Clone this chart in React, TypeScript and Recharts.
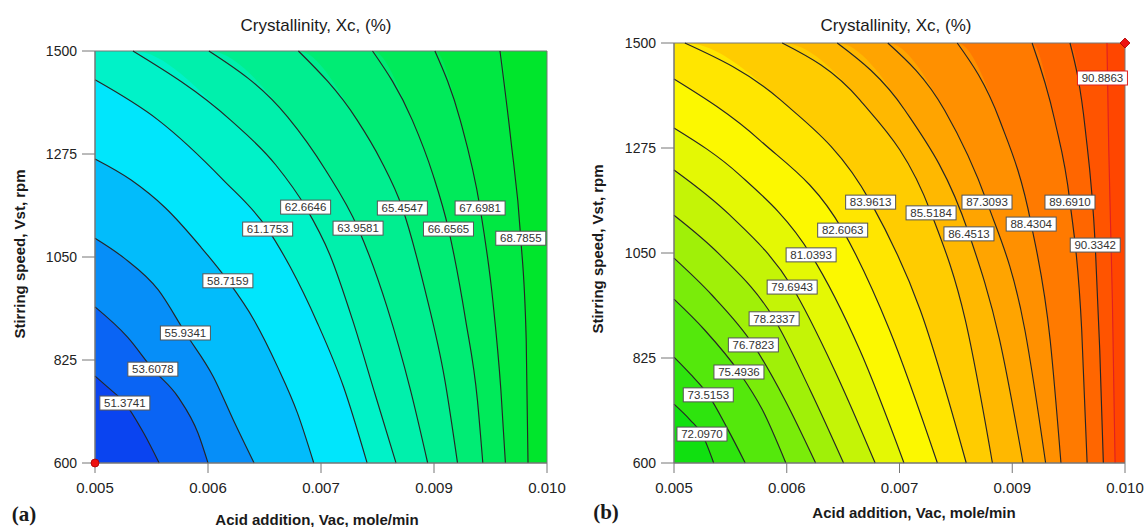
import React from "react";
import {
  ComposedChart,
  Area,
  Line,
  Scatter,
  XAxis,
  YAxis,
  ReferenceArea,
} from "recharts";

// shared axes
const xTicks = [0.005, 0.00625, 0.0075, 0.00875, 0.01];
const xTickLabels = ["0.005", "0.006", "0.007", "0.009", "0.010"];
const yTicks = [600, 825, 1050, 1275, 1500];

// panel (a): contour levels, contour points [x, y], label positions
const levelsA = [
  "51.3741", "53.6078", "55.9341", "58.7159", "61.1753", "62.6646",
  "63.9581", "65.4547", "66.6565", "67.6981", "68.7855",
];
const contoursA = [
  [[0.005, 790], [0.00515, 764], [0.00533, 731], [0.00554, 665], [0.00571, 600]],
  [[0.005, 941], [0.00536, 875], [0.00564, 805], [0.00592, 744], [0.00614, 665], [0.00625, 600]],
  [[0.005, 1091], [0.00532, 1048], [0.0057, 978], [0.006, 884], [0.00631, 788], [0.00653, 694], [0.00676, 600]],
  [[0.005, 1264], [0.0054, 1218], [0.00578, 1157], [0.00617, 1072], [0.00647, 998], [0.00676, 912], [0.00702, 810], [0.00724, 709], [0.00742, 600]],
  [[0.005, 1437], [0.0057, 1349], [0.00642, 1218], [0.00691, 1111], [0.00716, 1028], [0.00746, 906], [0.00775, 766], [0.00801, 600]],
  [[0.00542, 1500], [0.0065, 1349], [0.007, 1251], [0.00733, 1159], [0.0076, 1054], [0.00785, 912], [0.0081, 749], [0.00833, 600]],
  [[0.00626, 1500], [0.00713, 1356], [0.00755, 1240], [0.00791, 1113], [0.00823, 941], [0.00849, 759], [0.00868, 600]],
  [[0.00725, 1500], [0.0079, 1349], [0.00816, 1262], [0.0084, 1157], [0.00865, 978], [0.00887, 781], [0.00901, 600]],
  [[0.00807, 1500], [0.00851, 1349], [0.00874, 1229], [0.00891, 1111], [0.0091, 912], [0.00923, 738], [0.00929, 600]],
  [[0.00876, 1500], [0.00904, 1349], [0.00926, 1157], [0.0094, 956], [0.00949, 759], [0.00954, 600]],
  [[0.00948, 1500], [0.0096, 1306], [0.00971, 1091], [0.00977, 869], [0.00979, 600]],
];
const labelPosA = [
  [0.00533, 731], [0.00564, 805], [0.006, 884], [0.00647, 998], [0.00691, 1111],
  [0.00733, 1159], [0.00791, 1113], [0.0084, 1157], [0.00891, 1111], [0.00926, 1157],
  [0.00971, 1091],
];
const markerA = [{ x: 0.005, y: 600 }];

// panel (b)
const levelsB = [
  "72.0970", "73.5153", "75.4936", "76.7823", "78.2337", "79.6943", "81.0393",
  "82.6063", "83.9613", "85.5184", "86.4513", "87.3093", "88.4304", "89.6910",
  "90.3342", "90.8863",
];
const contoursB = [
  [[0.005, 726], [0.00518, 692], [0.00531, 662], [0.00544, 600]],
  [[0.005, 827], [0.00518, 791], [0.00538, 746], [0.0056, 671], [0.00579, 600]],
  [[0.005, 951], [0.00534, 885], [0.00572, 795], [0.00598, 714], [0.00624, 600]],
  [[0.005, 1039], [0.00542, 960], [0.00588, 853], [0.00623, 735], [0.00657, 600]],
  [[0.005, 1131], [0.00551, 1046], [0.00611, 909], [0.00651, 756], [0.00688, 600]],
  [[0.005, 1228], [0.00562, 1131], [0.00631, 977], [0.00678, 799], [0.00723, 600]],
  [[0.005, 1318], [0.00573, 1217], [0.00652, 1046], [0.00706, 842], [0.00755, 600]],
  [[0.005, 1423], [0.00595, 1292], [0.00687, 1099], [0.00739, 885], [0.00792, 600]],
  [[0.00512, 1500], [0.00618, 1378], [0.00718, 1159], [0.00773, 928], [0.00824, 600]],
  [[0.0062, 1500], [0.00706, 1378], [0.00785, 1136], [0.00823, 906], [0.00853, 600]],
  [[0.00681, 1500], [0.00756, 1356], [0.00827, 1091], [0.00861, 864], [0.00887, 600]],
  [[0.00737, 1500], [0.008, 1356], [0.00847, 1159], [0.00889, 885], [0.00912, 600]],
  [[0.00814, 1500], [0.00861, 1335], [0.00896, 1112], [0.00917, 864], [0.00929, 600]],
  [[0.00897, 1500], [0.00922, 1335], [0.00939, 1159], [0.00952, 885], [0.00958, 600]],
  [[0.00939, 1500], [0.00956, 1314], [0.00967, 1067], [0.00972, 842], [0.00976, 600]],
  [[0.0098, 1500], [0.00982, 1271], [0.00986, 949], [0.00989, 600]],
];
const labelPosB = [
  [0.00531, 662], [0.00538, 746], [0.00572, 795], [0.00588, 853], [0.00611, 909],
  [0.00631, 977], [0.00652, 1046], [0.00687, 1099], [0.00718, 1159], [0.00785, 1136],
  [0.00827, 1091], [0.00847, 1159], [0.00896, 1112], [0.00939, 1159], [0.00967, 1067],
  [0.00975, 1425],
];
const markerB = [{ x: 0.01, y: 1500 }];

// band fills: index 0 = below the first contour, last = beyond the last one
const bandsA = [
  "#0a44f0", "#0a64f4", "#068ef8", "#02bcfb", "#00e6fc", "#00f2c8",
  "#00f0ac", "#00ee90", "#00ec74", "#00ea5a", "#00e842", "#00e62c",
];
const bandsB = [
  "#10e010", "#2ee40e", "#54e80c", "#7aec0a", "#a0f008", "#c4f406", "#e4f804",
  "#fcf800", "#ffe600", "#ffcc00", "#ffb800", "#ffa400", "#ff9000", "#ff7a00",
  "#ff6600", "#ff5400", "#ff4600",
];

const X_MIN = xTicks[0];
const X_MAX = xTicks[xTicks.length - 1];
const Y_MIN = yTicks[0];
const Y_MAX = yTicks[yTicks.length - 1];

const SANS = "'Liberation Sans', Arial, sans-serif";

const toPts = (c: number[][]) => c.map(([x, y]) => ({ x, y }));
// region under a contour, closed through the top-left corner when it starts on the top edge
const toFill = (c: number[][]) =>
  c[0][0] > X_MIN ? [{ x: X_MIN, y: Y_MAX }, ...toPts(c)] : toPts(c);

const LabelBox = (props: any) => {
  const { cx, cy, payload } = props;
  if (cx == null || cy == null) return null;
  const w = 50;
  const h = 14;
  return (
    <g>
      <rect
        x={cx - w / 2}
        y={cy - h / 2}
        width={w}
        height={h}
        fill="#ffffff"
        stroke={payload?.hi ? "#e02020" : "#555555"}
        strokeWidth={1}
      />
      <text
        x={cx}
        y={cy}
        dy="0.36em"
        textAnchor="middle"
        fontSize={11.5}
        fontFamily={SANS}
        fill="#333333"
      >
        {payload?.text}
      </text>
    </g>
  );
};

const RedDot = (p: any) => (
  <circle cx={p.cx} cy={p.cy} r={4} fill="#ee1111" stroke="#aa0000" strokeWidth={0.8} />
);
const RedDiamond = (p: any) => (
  <polygon
    points={`${p.cx},${p.cy - 5} ${p.cx + 5},${p.cy} ${p.cx},${p.cy + 5} ${p.cx - 5},${p.cy}`}
    fill="#ee1111"
    stroke="#aa0000"
    strokeWidth={0.8}
  />
);

interface PanelProps {
  contours: number[][][];
  levels: string[];
  labelPos: number[][];
  bands: string[];
  marker: { x: number; y: number }[];
  markerShape: (p: any) => React.ReactElement;
  highlight: number;
  margin: { top: number; right: number; bottom: number; left: number };
}

function Panel({ contours, levels, labelPos, bands, marker, markerShape, highlight, margin }: PanelProps) {
  const labels = levels.map((text, i) => ({
    x: labelPos[i][0],
    y: labelPos[i][1],
    text,
    hi: i === highlight,
  }));
  const baseFill = [
    { x: X_MIN, y: Y_MAX },
    { x: X_MAX, y: Y_MAX },
  ];
  // paint from the outermost band inwards
  const order = contours.map((_, i) => i).reverse();

  return (
    <ComposedChart width={573} height={527} margin={margin}>
      <XAxis
        type="number"
        dataKey="x"
        domain={[X_MIN, X_MAX]}
        ticks={xTicks}
        interval={0}
        tickFormatter={(_v: number, i: number) => xTickLabels[i]}
        height={40}
        tickSize={10}
        tickMargin={9}
        stroke="#777777"
        tick={{ fill: "#222222", fontSize: 15, fontFamily: SANS }}
      />
      <YAxis
        type="number"
        dataKey="y"
        domain={[Y_MIN, Y_MAX]}
        ticks={yTicks}
        interval={0}
        width={60}
        tickSize={13}
        tickMargin={5}
        stroke="#777777"
        tick={{ fill: "#222222", fontSize: 14, fontFamily: SANS }}
      />
      <Area
        data={baseFill}
        dataKey="y"
        type="linear"
        stroke="none"
        fill={bands[bands.length - 1]}
        fillOpacity={1}
        isAnimationActive={false}
      />
      {order.map((i) => (
        <Area
          key={`band-${i}`}
          data={toFill(contours[i])}
          dataKey="y"
          type="monotone"
          stroke="none"
          fill={bands[i]}
          fillOpacity={1}
          isAnimationActive={false}
        />
      ))}
      {contours.map((c, i) => (
        <Line
          key={`line-${i}`}
          data={toPts(c)}
          dataKey="y"
          type="monotone"
          stroke={i === highlight ? "#e02020" : "#262626"}
          strokeWidth={1.15}
          dot={false}
          activeDot={false}
          isAnimationActive={false}
        />
      ))}
      <ReferenceArea
        x1={X_MIN}
        x2={X_MAX}
        y1={Y_MIN}
        y2={Y_MAX}
        fill="none"
        stroke="#777777"
        strokeWidth={1}
      />
      <Scatter data={labels} shape={LabelBox} isAnimationActive={false} />
      <Scatter data={marker} shape={markerShape} isAnimationActive={false} />
    </ComposedChart>
  );
}

const abs = (left: number, top: number, extra: React.CSSProperties = {}): React.CSSProperties => ({
  position: "absolute",
  left,
  top,
  transform: "translate(-50%, -50%)",
  whiteSpace: "nowrap",
  fontFamily: SANS,
  color: "#1a1a1a",
  lineHeight: 1,
  ...extra,
});

export default function App() {
  const title = "Crystallinity, Xc, (%)";
  const yLabel = "Stirring speed, Vst, rpm";
  const xLabel = "Acid addition, Vac, mole/min";
  const axisFont: React.CSSProperties = { fontSize: 15, fontWeight: "bold" };
  const tagFont: React.CSSProperties = {
    fontSize: 21,
    fontWeight: "bold",
    fontFamily: "'Liberation Serif', 'Times New Roman', serif",
  };

  return (
    <div
      style={{
        position: "absolute",
        left: 0,
        top: 0,
        width: 1146,
        height: 527,
        background: "#ffffff",
        overflow: "hidden",
      }}
    >
      <div style={{ position: "absolute", left: 0, top: 0 }}>
        <Panel
          contours={contoursA}
          levels={levelsA}
          labelPos={labelPosA}
          bands={bandsA}
          marker={markerA}
          markerShape={RedDot}
          highlight={-1}
          margin={{ top: 51, right: 26, bottom: 24, left: 35 }}
        />
      </div>
      <div style={{ position: "absolute", left: 573, top: 0 }}>
        <Panel
          contours={contoursB}
          levels={levelsB}
          labelPos={labelPosB}
          bands={bandsB}
          marker={markerB}
          markerShape={RedDiamond}
          highlight={levelsB.length - 1}
          margin={{ top: 43, right: 21, bottom: 24, left: 41 }}
        />
      </div>

      <div style={abs(316, 25, { fontSize: 17 })}>{title}</div>
      <div style={abs(896, 25, { fontSize: 17 })}>{title}</div>

      <div style={abs(19, 254, { ...axisFont, transform: "translate(-50%, -50%) rotate(-90deg)" })}>
        {yLabel}
      </div>
      <div style={abs(597, 249, { ...axisFont, transform: "translate(-50%, -50%) rotate(-90deg)" })}>
        {yLabel}
      </div>

      <div style={abs(317, 519, axisFont)}>{xLabel}</div>
      <div style={abs(914, 512, axisFont)}>{xLabel}</div>

      <div style={abs(24, 514, tagFont)}>(a)</div>
      <div style={abs(606, 512, tagFont)}>(b)</div>
    </div>
  );
}
